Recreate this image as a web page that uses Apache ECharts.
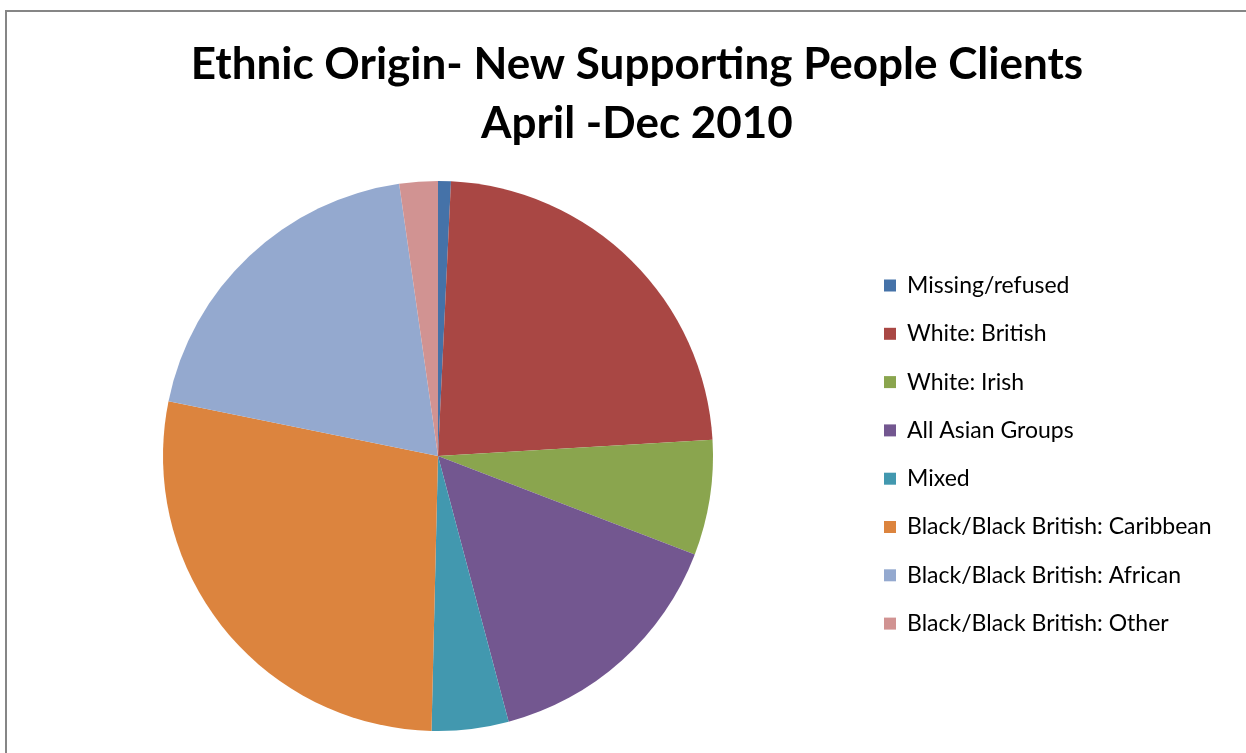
<!DOCTYPE html>
<html>
<head>
<meta charset="utf-8">
<script src="https://cdn.jsdelivr.net/npm/echarts@6/dist/echarts.min.js"></script>
<style>
  html, body { margin: 0; padding: 0; background: #fff; }
  #chart { width: 1246px; height: 753px; }
</style>
</head>
<body>
<div id="chart"></div>
<script>
// categories and client counts
var groups = [
  'Missing/refused',
  'White: British',
  'White: Irish',
  'All Asian Groups',
  'Mixed',
  'Black/Black British: Caribbean',
  'Black/Black British: African',
  'Black/Black British: Other'
]
var clients = [1, 31, 9, 20, 6, 37, 26, 3]
var sliceColors = ['#4572A8', '#A94744', '#8AA54E', '#735790', '#4298AF', '#DC843E', '#94A9CF', '#D19392']

var chart = echarts.init(document.getElementById('chart'))

var pieData = []
for (var i = 0; i < groups.length; i++) {
  pieData.push({ name: groups[i], value: clients[i], itemStyle: { color: sliceColors[i] } })
}

chart.setOption({
  backgroundColor: '#ffffff',
  animation: false,
  title: {
    text: 'Ethnic Origin- New Supporting People Clients\nApril -Dec 2010',
    left: 632,
    textAlign: 'center',
    top: 30,
    textStyle: {
      color: '#000000',
      fontFamily: 'Lato',
      fontWeight: 'bold',
      fontSize: 44,
      lineHeight: 59
    }
  },
  graphic: [
    {
      type: 'rect',
      shape: { x: 6, y: 11, width: 1300, height: 800 },
      style: { fill: 'none', stroke: '#868686', lineWidth: 2 }
    }
  ],
  legend: {
    orient: 'vertical',
    left: 879,
    top: 269,
    itemWidth: 12,
    itemHeight: 12,
    itemGap: 25.3,
    icon: 'rect',
    data: groups,
    textStyle: {
      color: '#000000',
      fontFamily: 'Lato',
      fontSize: 23,
      padding: [0, 0, 0, 6]
    }
  },
  series: [
    {
      type: 'pie',
      center: [438, 456],
      radius: 275,
      startAngle: 90,
      clockwise: true,
      label: { show: false },
      labelLine: { show: false },
      emphasis: { disabled: true },
      itemStyle: { borderWidth: 0 },
      data: pieData
    }
  ]
})
</script>
</body>
</html>
